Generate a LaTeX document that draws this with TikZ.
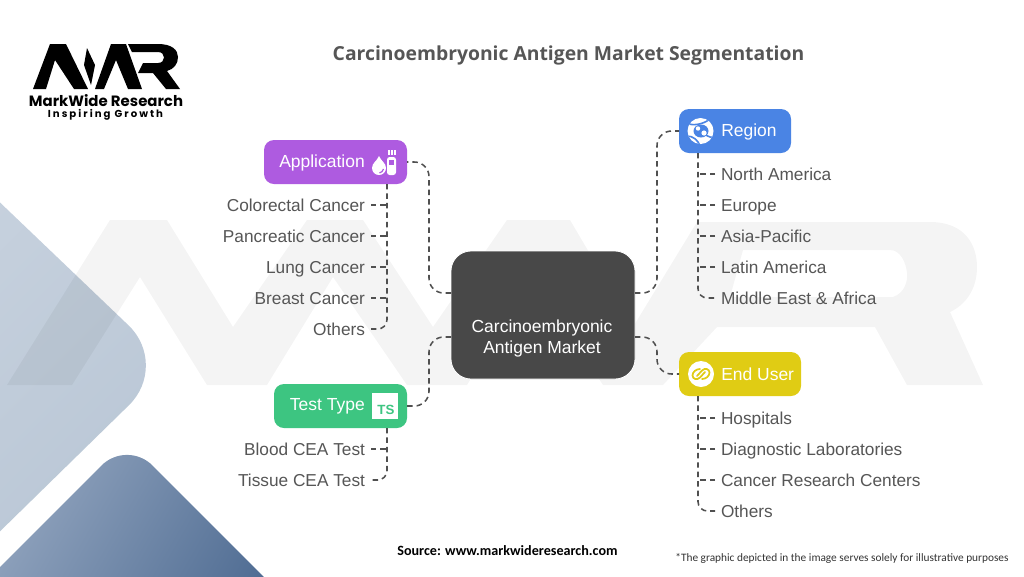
\documentclass[tikz,border=0pt]{standalone}
\usepackage{fontspec}
\setmainfont{Liberation Sans}
\newfontfamily\titlefont{Open Sans}
\newfontfamily\notefont{Carlito}
\newfontfamily\logofont{Poppins}
\newfontfamily\logotag[LetterSpace=20]{Poppins}
\usetikzlibrary{calc}
\definecolor{inkgray}{HTML}{565656}
\definecolor{linegray}{HTML}{505050}
\definecolor{hubgray}{HTML}{484848}
\definecolor{appcol}{HTML}{AE5BE0}
\definecolor{regcol}{HTML}{4A84E4}
\definecolor{usercol}{HTML}{E0CC14}
\definecolor{testcol}{HTML}{3DC581}
\tikzset{
  conn/.style={draw=linegray,line width=1.15pt,dash pattern=on 4.1pt off 3pt},
  hubconn/.style={conn,rounded corners=11pt},
  endconn/.style={conn,rounded corners=7pt},
  catbox/.style={rectangle,rounded corners=7.5pt,inner sep=0pt,outer sep=0pt,minimum height=33pt},
  cattext/.style={text=white,inner sep=0pt,font=\fontsize{13.1}{16}\selectfont},
  leafr/.style={anchor=west,text=inkgray,inner sep=0pt,outer sep=4.5pt,text height=11.5pt,text depth=2pt,font=\fontsize{12.95}{16}\selectfont},
  leafl/.style={leafr,anchor=east},
  logopart/.style={fill=black,draw=none},
}
\begin{document}
\begin{tikzpicture}[x=0.75pt,y=-0.75pt]
\useasboundingbox (0,0) rectangle (1024,576);
\fill[white] (0,0) rectangle (1024,576);
\begin{scope}
\clip (0,0) rectangle (1024,576);
% background diamonds
\shade[left color={rgb,255:red,207;green,216;blue,227},right color={rgb,255:red,186;green,199;blue,214},shading angle=45,rounded corners=43pt]
  (-170,40) -- (170,365) -- (-60,590) -- (-300,365) -- cycle;
\shade[left color={rgb,255:red,150;green,168;blue,193},right color={rgb,255:red,72;green,102;blue,142},shading angle=60,rounded corners=27pt]
  (-40,607) -- (127,440) -- (304,617) -- (127,680) -- cycle;
% watermark
\fill[black,opacity=0.042,even odd rule]
  (7,385) -- (110,220) -- (167,220) -- (233,327) -- (307,220) -- (363,220) -- (433,327) -- (507,220) -- (570,220) -- (633,327) -- (697,222)
  -- (930,222) .. controls (965,222) and (977,245) .. (977,267) .. controls (977,290) and (965,305) .. (950,312)
  -- (983,385) -- (907,385) -- (875,327) -- (717,327) -- (663,385) -- (603,385) -- (533,277) -- (467,385) -- (407,385) -- (333,277) -- (267,385) -- (207,385) -- (140,277) -- (72,385) -- cycle
  (743,250) -- (730,297) -- (893,297) .. controls (905,293) and (908,280) .. (907,273) .. controls (906,262) and (900,250) .. (890,250) -- cycle;
\end{scope}
% logo
\fill[logopart] (33,89) -- (50,44) -- (66,44) -- (88,89) -- (74,89) -- (55,60) -- (46,89) -- cycle;
\fill[logopart] (87,48) -- (95,65) -- (91,85) -- (84,65) -- cycle;
\fill[logopart] (95,89) -- (111,44) -- (126,44) -- (142,89) -- (128,89) -- (116,60) -- (104,89) -- cycle;
\fill[logopart] (128,44) -- (158,44) .. controls (172,44) and (178,50) .. (178,57) .. controls (178,64) and (174,69) .. (167,71) -- (180,89) -- (166,89) -- (153,73) -- (138,73) -- (143,63) -- (158,63) .. controls (166,63) and (166,52) .. (158,52) -- (132,52) -- cycle;
\node[inner sep=0pt,font=\logofont\bfseries\fontsize{11.2}{12}\selectfont] (logoname) at (106,101) {MarkWide Research};
\node[inner sep=0pt,font=\logotag\bfseries\fontsize{7.6}{8}\selectfont] (logotag) at (105.5,115) {Inspiring Growth};
% title and notes
\node[inner sep=0pt,text=inkgray,font=\titlefont\bfseries\fontsize{14.5}{16}\selectfont] (title) at (568.5,55) {Carcinoembryonic Antigen Market Segmentation};
\node[inner sep=0pt,font=\notefont\bfseries\fontsize{10.6}{12}\selectfont] (source) at (507.5,551) {Source: www.markwideresearch.com};
\node[inner sep=0pt,text=black!80,font=\notefont\fontsize{8.5}{10}\selectfont] (note) at (842,558) {*The graphic depicted in the image serves solely for illustrative purposes};
% boxes
\node[catbox,fill=hubgray,draw=white,line width=0.6pt,rounded corners=15pt,minimum width=138pt,minimum height=96pt] (hub) at (543,315) {};
\node[catbox,fill=appcol,minimum width=107.25pt] (app) at (335.5,162) {};
\node[catbox,fill=regcol,minimum width=84pt] (reg) at (735,131) {};
\node[catbox,fill=usercol,minimum width=91.5pt] (user) at (740,374) {};
\node[catbox,fill=testcol,minimum width=99.75pt] (test) at (340.5,406) {};
\node[text=white,inner sep=0pt,align=center,font=\fontsize{13.1}{15.75}\selectfont] (hubtext) at (542,338.5) {Carcinoembryonic\\Antigen Market};
\node[cattext,anchor=east] (apptext) at (365,162.5) {Application};
\node[cattext,anchor=west] (regtext) at (721,131.5) {Region};
\node[cattext,anchor=west] (usertext) at (721,374.5) {End User};
\node[cattext,anchor=east] (testtext) at (365,406.5) {Test Type};
% leaves
\node[leafl] (a1) at (371,205) {Colorectal Cancer};
\node[leafl] (a2) at (371,236) {Pancreatic Cancer};
\node[leafl] (a3) at (371,267) {Lung Cancer};
\node[leafl] (a4) at (371,298) {Breast Cancer};
\node[leafl] (a5) at (371,329) {Others};
\node[leafl] (t1) at (371,449) {Blood CEA Test};
\node[leafl] (t2) at (371,480) {Tissue CEA Test};
\node[leafr] (r1) at (715,174) {North America};
\node[leafr] (r2) at (715,205) {Europe};
\node[leafr] (r3) at (715,236) {Asia-Pacific};
\node[leafr] (r4) at (715,267) {Latin America};
\node[leafr] (r5) at (715,298) {Middle East \& Africa};
\node[leafr] (u1) at (715,418) {Hospitals};
\node[leafr] (u2) at (715,449) {Diagnostic Laboratories};
\node[leafr] (u3) at (715,480) {Cancer Research Centers};
\node[leafr] (u4) at (715,511) {Others};
% trunk coordinates
\coordinate (appT) at (387,184);
\coordinate (testT) at (387,428);
\coordinate (regT) at (698,153);
\coordinate (userT) at (698,396);
% hub connectors
\draw[hubconn] ($(hub.west)+(0,-22)$) -- ++(-22,0) |- (app.east);
\draw[hubconn] ($(hub.west)+(0,22)$) -- ++(-22,0) |- (test.east);
\draw[hubconn] ($(hub.east)+(0,-22)$) -- ++(22,0) |- (reg.west);
\draw[hubconn] ($(hub.east)+(0,22)$) -- ++(22,0) |- (user.west);
% leaf connectors: branches start at the text, the rounded last one closes the trunk
\foreach \n in {a1,a2,a3,a4} \draw[conn] (\n.east) -- (\n.east -| appT);
\draw[endconn] (appT) |- (a5.east);
\draw[conn] (t1.east) -- (t1.east -| testT);
\draw[endconn] (testT) |- (t2.east);
\foreach \n in {r1,r2,r3,r4} \draw[conn] (\n.west) -- (\n.west -| regT);
\draw[endconn] (regT) |- (r5.west);
\foreach \n in {u1,u2,u3} \draw[conn] (\n.west) -- (\n.west -| userT);
\draw[endconn] (userT) |- (u4.west);
% icon: application
\fill[white] (379,156) .. controls (381,161) and (386,163) .. (386,168) arc (0:180:7) .. controls (372,163) and (377,161) .. (379,156) -- cycle;
\draw[appcol,line width=0.9pt] (383.5,169) .. controls (383,171) and (381.5,172.5) .. (379.5,173);
\fill[white,rounded corners=2pt] (387,157) rectangle (396,175);
\fill[appcol] (389,160) rectangle (394,164.5);
\foreach \q in {387.5,390.5,393.5} \fill[white] (\q,150) rectangle (\q+2,155);
% icon: test type
\fill[white] (372,393) rectangle (398,419);
\node[inner sep=0pt,text=testcol,font=\bfseries\fontsize{10}{12}\selectfont] (tsmark) at (386,410) {TS};
% icon: region
\fill[white] (700.5,131) circle (13);
\begin{scope}
\clip (700.5,131) circle (13);
\fill[regcol] (701,131) ellipse (7.5 and 6.5);
\draw[regcol,line width=1.2pt] (689,124) .. controls (696,126) and (706,123) .. (711,118);
\draw[regcol,line width=1.2pt] (687,136) .. controls (693,136) and (698,140) .. (700,146);
\draw[regcol,line width=1.2pt] (706,135) .. controls (709,137) and (712,138) .. (715,137);
\end{scope}
\fill[white] (698,128.5) circle (2.2);
\fill[white] (704,133) circle (2.6);
% icon: end user
\fill[white] (701,374) circle (13);
\draw[usercol,line width=1.3pt,line cap=round] (705,372) -- (700,377.5) .. controls (697,380.5) and (692.5,379) .. (692.5,375.5) .. controls (692.5,372) and (696,369) .. (700,369);
\draw[usercol,line width=1.3pt,line cap=round] (697,376) -- (702,370.5) .. controls (705,367.5) and (709.5,369) .. (709.5,372.5) .. controls (709.5,376) and (706,379) .. (702,379);
\end{tikzpicture}
\end{document}
